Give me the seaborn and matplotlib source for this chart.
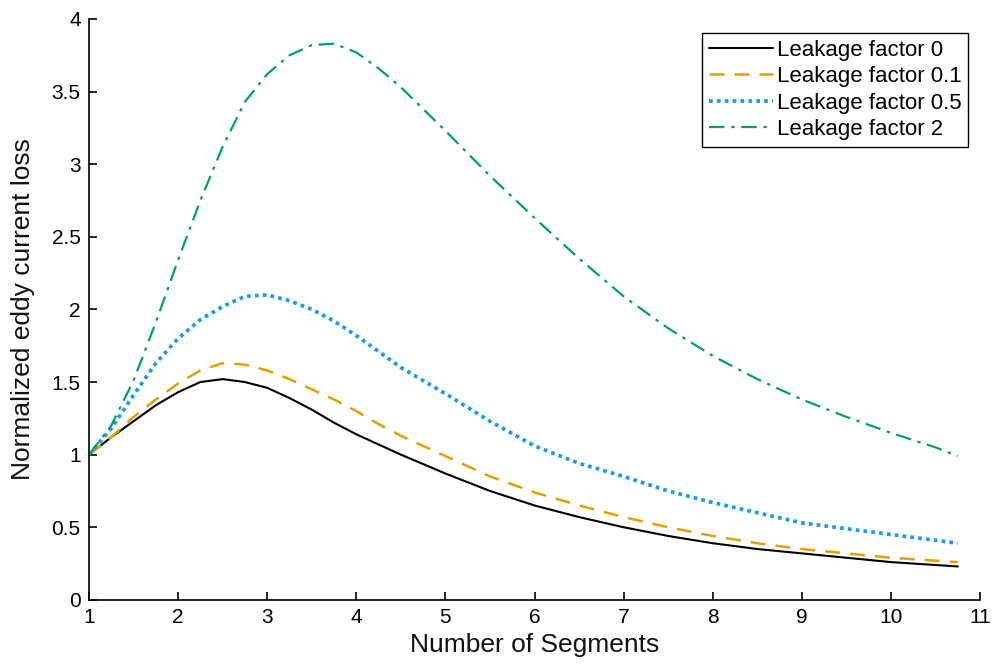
import matplotlib
matplotlib.use("Agg")
import matplotlib.pyplot as plt
import seaborn as sns
import pandas as pd
from matplotlib.ticker import FuncFormatter, MultipleLocator

segments = [1, 1.25, 1.5, 1.75, 2, 2.25, 2.5, 2.75, 3, 3.25, 3.5, 3.75, 4, 4.25, 4.5,
            5, 5.5, 6, 6.5, 7, 7.5, 8, 8.5, 9, 9.5, 10, 10.5, 10.75]
loss_k0 = [1.00, 1.12, 1.23, 1.34, 1.43, 1.50, 1.52, 1.50, 1.46, 1.39, 1.31, 1.22, 1.14, 1.07, 1.00,
           0.87, 0.75, 0.65, 0.57, 0.50, 0.44, 0.39, 0.35, 0.32, 0.29, 0.26, 0.24, 0.23]
loss_k01 = [1.00, 1.12, 1.26, 1.38, 1.49, 1.58, 1.63, 1.62, 1.58, 1.52, 1.45, 1.38, 1.30, 1.21, 1.13,
            0.99, 0.85, 0.74, 0.65, 0.57, 0.50, 0.44, 0.39, 0.35, 0.32, 0.29, 0.27, 0.26]
loss_k05 = [1.00, 1.18, 1.41, 1.63, 1.80, 1.93, 2.02, 2.09, 2.10, 2.06, 2.00, 1.92, 1.82, 1.71, 1.60,
            1.42, 1.23, 1.06, 0.94, 0.85, 0.75, 0.67, 0.60, 0.53, 0.49, 0.45, 0.41, 0.39]
loss_k2 = [1.00, 1.20, 1.51, 1.91, 2.34, 2.75, 3.12, 3.43, 3.62, 3.75, 3.82, 3.83, 3.77, 3.66, 3.53,
           3.23, 2.92, 2.63, 2.35, 2.09, 1.87, 1.68, 1.52, 1.38, 1.26, 1.15, 1.05, 0.99]

labels = ["Leakage factor 0", "Leakage factor 0.1", "Leakage factor 0.5", "Leakage factor 2"]
colors = ["#000000", "#E69F00", "#1E9BEB", "#009E73"]
series = [loss_k0, loss_k01, loss_k05, loss_k2]

sns.set_theme(style="white")
plt.rcParams["font.family"] = ["Liberation Sans", "DejaVu Sans"]

fig = plt.figure(figsize=(9.93, 6.68), dpi=100)
ax = fig.add_axes([0.0896, 0.102, 0.8974, 0.8696])

styles = [dict(linestyle="-", linewidth=1.5),
          dict(linestyle=(0, (6, 4)), linewidth=1.8),
          dict(linestyle=(0, (1, 1.1)), linewidth=2.7),
          dict(linestyle=(0, (7, 3, 1.5, 3)), linewidth=1.6)]

for vals, lab, col, st in zip(series, labels, colors, styles):
    df = pd.DataFrame({"x": segments, "y": vals})
    sns.lineplot(data=df, x="x", y="y", ax=ax, color=col, label=lab, **st)

ax.set_xlim(1, 11)
ax.set_ylim(0, 4)
ax.xaxis.set_major_locator(MultipleLocator(1))
ax.yaxis.set_major_locator(MultipleLocator(0.5))
fmt = FuncFormatter(lambda v, p: "%g" % v)
ax.xaxis.set_major_formatter(fmt)
ax.yaxis.set_major_formatter(fmt)

for s in ["top", "right"]:
    ax.spines[s].set_visible(False)
for s in ["left", "bottom"]:
    ax.spines[s].set_color("black")
    ax.spines[s].set_linewidth(1.2)

ax.tick_params(axis="both", direction="in", length=6, width=1.2, colors="black",
               labelsize=15, left=True, bottom=True, pad=6)

ax.set_xlabel("Number of Segments", fontsize=19, color="#111111", labelpad=4)
ax.set_ylabel("Normalized eddy current loss", fontsize=19, color="#111111", labelpad=12)

leg = ax.legend(loc="upper right", bbox_to_anchor=(0.9865, 0.976), fontsize=16,
                frameon=True, fancybox=False, edgecolor="black", framealpha=1,
                handlelength=2.9, handletextpad=0.15, borderpad=0.3, labelspacing=0.25,
                borderaxespad=0)
leg.get_frame().set_linewidth(1.0)
for t in leg.get_texts():
    t.set_color("black")

fig.savefig("out.png", dpi=100)
